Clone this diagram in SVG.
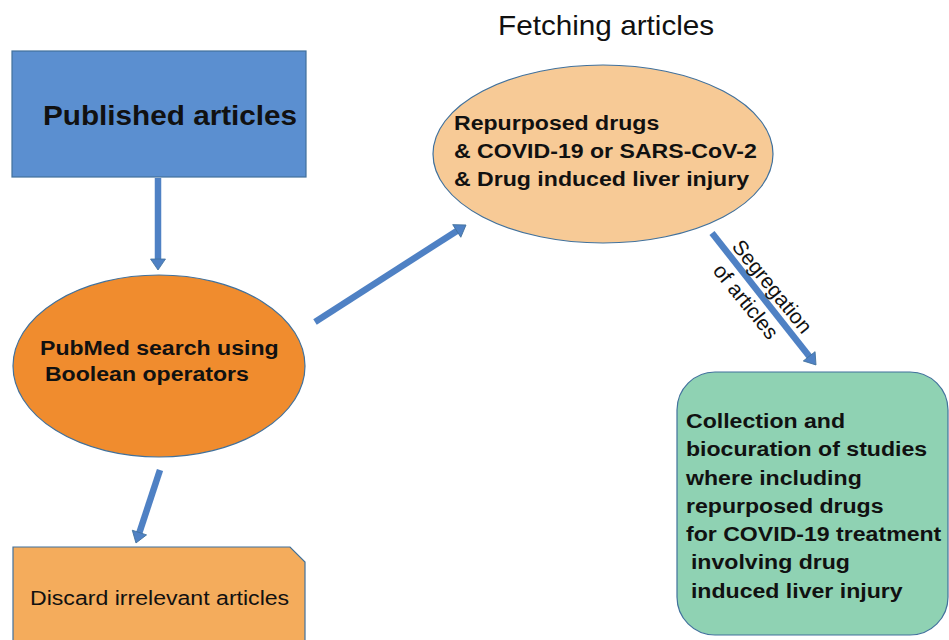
<svg xmlns="http://www.w3.org/2000/svg" width="949" height="640" viewBox="0 0 949 640">
<style>
.t{font-family:"Liberation Sans",Arial,sans-serif;fill:#111}
.b{font-weight:bold}
.shape{stroke:#41719c;stroke-width:1.2}
.conn{stroke:#4f81c4;stroke-width:6.5;fill:none;marker-end:url(#ah)}
</style>
<defs>
<marker id="ah" markerUnits="userSpaceOnUse" markerWidth="12" markerHeight="16" refX="0" refY="7.5" orient="auto" overflow="visible">
<path d="M-1,0 L10,7.5 L-1,15 Z" fill="#4f81c4" stroke="#41719c" stroke-width="0.8"/>
</marker>
</defs>
<rect width="949" height="640" fill="#ffffff"/>
<text class="t" font-size="27" transform="translate(498,35) scale(1.1,1)">Fetching articles</text>
<g id="published">
<rect class="shape" x="12" y="51" width="294" height="126" fill="#5b8fd0"/>
<text class="t b" font-size="27" transform="translate(43,125) scale(1.1,1)">Published articles</text>
</g>
<g id="pubmed">
<ellipse class="shape" cx="159" cy="366" rx="146" ry="91" fill="#f08c2e"/>
<text class="t b" font-size="21" transform="translate(40,355) scale(1.1,1)"><tspan x="0" y="0">PubMed search using</tspan><tspan x="4.5" y="26">Boolean operators</tspan></text>
</g>
<g id="discard">
<path class="shape" d="M13,547 L290,547 L305,562 L305,645 L13,645 Z" fill="#f4ac5c"/>
<text class="t" font-size="21" transform="translate(30,605) scale(1.1,1)">Discard irrelevant articles</text>
</g>
<g id="fetching">
<ellipse class="shape" cx="603" cy="154" rx="170" ry="89" fill="#f7ca96"/>
<text class="t b" font-size="21" transform="translate(454,130) scale(1.1,1)"><tspan x="0" y="0">Repurposed drugs</tspan><tspan x="0" y="28">&amp; COVID-19 or SARS-CoV-2</tspan><tspan x="0" y="56">&amp; Drug induced liver injury</tspan></text>
</g>
<g id="collection">
<rect class="shape" x="677" y="372" width="271" height="263" rx="38" ry="38" fill="#8fd2b3"/>
<text class="t b" font-size="21" transform="translate(686,428) scale(1.1,1)"><tspan x="0" y="0">Collection and</tspan><tspan x="0" y="28.3">biocuration of studies</tspan><tspan x="0" y="56.6">where including</tspan><tspan x="0" y="84.9">repurposed drugs</tspan><tspan x="0" y="113.2">for COVID-19 treatment</tspan><tspan x="4.5" y="141.5">involving drug</tspan><tspan x="4.5" y="169.8">induced liver injury</tspan></text>
</g>
<g id="connectors">
<line class="conn" x1="158" y1="178" x2="158" y2="260"/>
<line class="conn" x1="315" y1="322" x2="457.6" y2="230.4"/>
<line class="conn" x1="712" y1="233" x2="809.8" y2="357.1"/>
<line class="conn" x1="160" y1="470" x2="139.1" y2="533.5"/>
<text class="t" font-size="21" transform="translate(731,247) rotate(51)">Segregation</text>
<text class="t" font-size="21" transform="translate(712,271) rotate(51)">of articles</text>
</g>
</svg>
